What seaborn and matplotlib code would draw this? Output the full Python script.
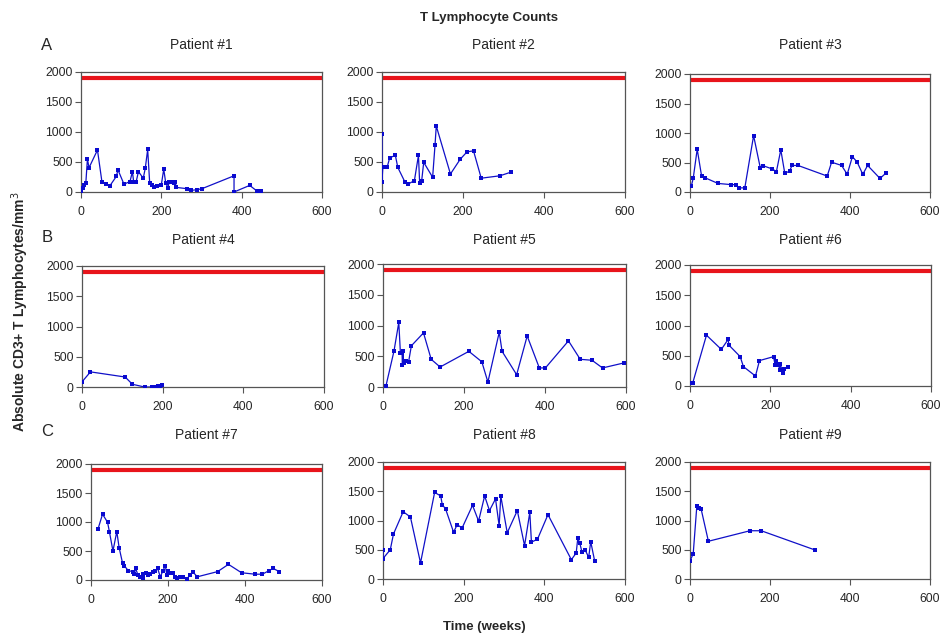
import numpy as np
import pandas as pd
import matplotlib
matplotlib.use("Agg")
import matplotlib.pyplot as plt
import seaborn as sns

sns.set_theme(style="white")
plt.rcParams['font.family'] = ['Liberation Sans', 'DejaVu Sans']

NORMAL = 1900

p1_t = [0, 4, 8, 12, 16, 20, 41, 52, 61, 71, 88, 92, 107, 122, 128, 131, 137, 143, 155, 160, 166, 171, 176, 182, 188,
        200, 206, 211, 217, 219, 225, 231, 235, 237, 264, 274, 289, 301, 381, 381, 420, 439, 447]
p1_v = [0, 66, 120, 150, 550, 405, 700, 175, 135, 95, 260, 370, 130, 175, 340, 175, 160, 340, 230, 395, 710, 150, 120, 77, 93,
        120, 380, 148, 66, 175, 160, 148, 160, 77, 55, 27, 38, 55, 270, 0, 110, 11, 11]

p2_t = [0, 0, 2, 8, 13, 19, 33, 39, 56, 64, 80, 90, 93, 98, 103, 125, 131, 134, 169, 193, 210, 226, 245, 291, 318]
p2_v = [960, 175, 410, 420, 420, 570, 610, 410, 175, 130, 190, 610, 150, 190, 495, 245, 790, 1100, 300, 545, 670, 685, 230, 270, 330]

p3_t = [3, 8, 18, 29, 38, 70, 103, 114, 123, 137, 159, 176, 183, 206, 216, 227, 237, 249, 255, 270,
        343, 354, 379, 393, 406, 418, 432, 444, 475, 489]
p3_v = [95, 230, 725, 270, 240, 145, 125, 125, 70, 70, 955, 400, 445, 390, 345, 715, 315, 355, 450, 450,
        270, 505, 450, 300, 600, 505, 300, 450, 230, 315]

p4_t = [0, 21, 107, 125, 155, 174, 182, 188, 194, 199]
p4_v = [85, 250, 165, 45, 0, 0, 5, 10, 10, 28]

p5_t = [7, 27, 39, 43, 47, 48, 49, 51, 56, 63, 70, 100, 119, 141, 212, 244, 259, 287, 294, 330,
        356, 386, 401, 458, 487, 516, 542, 594]
p5_v = [10, 580, 1050, 550, 560, 360, 580, 385, 430, 400, 670, 880, 450, 325, 580, 410, 80, 890, 580, 200,
        830, 310, 310, 750, 450, 435, 310, 390]

p6_t = [3, 7, 41, 78, 95, 97, 125, 133, 163, 173, 208, 212, 214, 221, 223, 225, 231, 235, 245]
p6_v = [45, 55, 840, 605, 770, 675, 485, 320, 165, 420, 485, 340, 415, 340, 265, 360, 210, 280, 320]

p7_t = [18, 30, 43, 48, 57, 67, 73, 82, 86, 97, 109, 112, 116, 122, 128, 134, 136, 143, 148, 154, 160, 167, 173,
        180, 187, 193, 197, 201, 206, 212, 217, 223, 231, 240, 249, 257, 264, 276, 329, 357, 391, 426, 445, 462, 473, 489]
p7_v = [875, 1135, 995, 825, 500, 835, 560, 290, 250, 160, 145, 100, 200, 85, 55, 30, 100, 125, 85, 100, 145, 160, 200,
        55, 160, 250, 85, 160, 115, 125, 45, 30, 55, 45, 17, 85, 145, 55, 145, 270, 125, 100, 100, 160, 200, 145]

p8_t = [0, 0, 18, 26, 50, 68, 93, 128, 143, 147, 155, 175, 184, 196, 222, 237, 252, 264, 279, 288, 292, 308,
        333, 351, 364, 368, 383, 409, 467, 479, 483, 488, 493, 501, 510, 515, 525]
p8_v = [500, 350, 500, 770, 1150, 1060, 275, 1480, 1420, 1270, 1200, 800, 930, 870, 1260, 990, 1420, 1170, 1370, 910, 1420, 790,
        1170, 570, 1140, 630, 680, 1100, 330, 445, 700, 610, 470, 500, 370, 640, 300]

p9_t = [0, 8, 17, 23, 28, 46, 150, 178, 313]
p9_v = [310, 430, 1240, 1210, 1190, 645, 825, 825, 495]

patients = [
    ("Patient #1", p1_t, p1_v), ("Patient #2", p2_t, p2_v), ("Patient #3", p3_t, p3_v),
    ("Patient #4", p4_t, p4_v), ("Patient #5", p5_t, p5_v), ("Patient #6", p6_t, p6_v),
    ("Patient #7", p7_t, p7_v), ("Patient #8", p8_t, p8_v), ("Patient #9", p9_t, p9_v),
]

W, H = 942, 637
# axes boxes in pixels: left, top, right, bottom
boxes = [
    (81, 72, 322, 192), (382, 72, 625, 192), (690, 74, 930, 192),
    (82, 266, 324, 387), (383, 264, 626, 387), (690, 265, 931, 386),
    (91, 464, 322, 580), (383, 462, 625, 579), (690, 462, 930, 579),
]
title_y = [45, 45, 45, 240, 240, 240, 435, 435, 435]

fig = plt.figure(figsize=(W / 100, H / 100), dpi=100)
for (name, t, v), (l, tp, r, b), ty in zip(patients, boxes, title_y):
    ax = fig.add_axes([l / W, 1 - b / H, (r - l) / W, (b - tp) / H])
    ax.axhline(NORMAL, color="#e8141b", lw=3.0, zorder=2)
    df = pd.DataFrame({"t": t, "v": v})
    sns.lineplot(data=df, x="t", y="v", ax=ax, estimator=None, sort=False,
                 color="#1010c8", lw=0.9, marker="s", markersize=3.4,
                 markeredgewidth=0, markerfacecolor="#0a0ad0", zorder=3)
    ax.set_xlim(0, 600)
    ax.set_ylim(0, 2000)
    ax.set_xticks([0, 200, 400, 600])
    ax.set_yticks([0, 500, 1000, 1500, 2000])
    ax.set_xlabel("")
    ax.set_ylabel("")
    fig.text((l + r) / 2 / W, 1 - ty / H, name, ha="center", va="center", fontsize=10)
    ax.tick_params(axis="both", which="both", direction="out", length=4, width=0.8,
                   color="#555555", labelsize=8.7, pad=2, bottom=True, left=True)
    for s in ax.spines.values():
        s.set_color("#555555")
        s.set_linewidth(0.9)
    ax.xaxis.set_tick_params(pad=6)

fig.text(489 / W, 1 - 18 / H, "T Lymphocyte Counts", ha="center", va="center",
         fontsize=9.5, fontweight="bold")
for lab, y in [("A", 45), ("B", 237), ("C", 431)]:
    fig.text(47 / W, 1 - y / H, lab, ha="center", va="center", fontsize=12)
fig.text(20 / W, 1 - 312 / H, "Absolute CD3+ T Lymphocytes/mm$^3$", rotation=90,
         ha="center", va="center", fontsize=10, fontweight="bold")
fig.text(484 / W, 1 - 627 / H, "Time (weeks)", ha="center", va="center",
         fontsize=9.5, fontweight="bold")

fig.savefig("out.png", dpi=100)
